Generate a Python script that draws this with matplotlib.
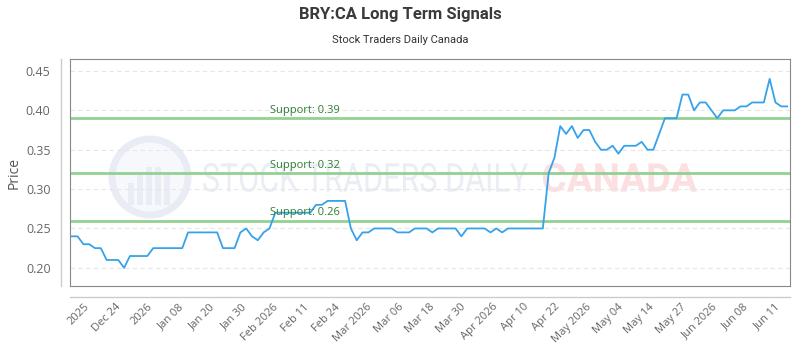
import numpy as np
import matplotlib.pyplot as plt
from matplotlib.lines import Line2D
from matplotlib.patches import Circle, PathPatch, Rectangle
from matplotlib.textpath import TextPath
from matplotlib.font_manager import FontProperties
from matplotlib.transforms import Affine2D, IdentityTransform

# price series (one value per trading day)
prices = [0.24, 0.24, 0.23, 0.23, 0.225, 0.225, 0.21, 0.21, 0.21, 0.20,
          0.215, 0.215, 0.215, 0.215, 0.225, 0.225, 0.225, 0.225, 0.225, 0.225,
          0.245, 0.245, 0.245, 0.245, 0.245, 0.245, 0.225, 0.225, 0.225, 0.245,
          0.25, 0.24, 0.235, 0.245, 0.25, 0.27, 0.27, 0.27, 0.27, 0.27,
          0.27, 0.27, 0.28, 0.28, 0.285, 0.285, 0.285, 0.285, 0.25, 0.235,
          0.245, 0.245, 0.25, 0.25, 0.25, 0.25, 0.245, 0.245, 0.245, 0.25,
          0.25, 0.25, 0.245, 0.25, 0.25, 0.25, 0.25, 0.24, 0.25, 0.25,
          0.25, 0.25, 0.245, 0.25, 0.245, 0.25, 0.25, 0.25, 0.25, 0.25,
          0.25, 0.25, 0.32, 0.34, 0.38, 0.37, 0.38, 0.365, 0.375, 0.375,
          0.36, 0.35, 0.35, 0.355, 0.345, 0.355, 0.355, 0.355, 0.36, 0.35,
          0.35, 0.37, 0.39, 0.39, 0.39, 0.42, 0.42, 0.40, 0.41, 0.41,
          0.40, 0.39, 0.40, 0.40, 0.40, 0.405, 0.405, 0.41, 0.41, 0.41,
          0.44, 0.41, 0.405, 0.405]

supports = [0.39, 0.32, 0.26]
support_labels = ["Support: 0.39", "Support: 0.32", "Support: 0.26"]

tick_labels = ["2025", "Dec 24", "2026", "Jan 08", "Jan 20", "Jan 30", "Feb 2026",
               "Feb 11", "Feb 24", "Mar 2026", "Mar 06", "Mar 18", "Mar 30",
               "Apr 2026", "Apr 10", "Apr 22", "May 2026", "May 04", "May 14",
               "May 27", "Jun 2026", "Jun 08", "Jun 11"]

W, H = 800, 350
fig = plt.figure(figsize=(8, 3.5), dpi=100)
ax = fig.add_axes([0.0875, 0.183, 0.9, 0.648])


def px(x, y):
    # pixel position from top-left -> display coords
    return x, H - y


def stretched_text(s, x0, x1, ytop, ybot, color, weight="normal"):
    tp = TextPath((0, 0), s, size=50, prop=FontProperties(family="Roboto", weight=weight))
    bb = tp.get_extents()
    sx = (x1 - x0) / bb.width
    sy = (ybot - ytop) / bb.height
    tr = Affine2D().translate(-bb.x0, -bb.y0).scale(sx, sy).translate(x0, H - ybot)
    fig.add_artist(PathPatch(tr.transform_path(tp), transform=IdentityTransform(),
                             facecolor=color, edgecolor="none", zorder=0))


# watermark: logo + text
fig.add_artist(Circle(px(150, 177), 38, transform=IdentityTransform(),
                      facecolor="#f7f8fc", edgecolor="#e9ecf4", lw=5, zorder=0))
for bx, bh in [(128, 22), (137, 30), (146, 38), (155, 38), (164, 30)]:
    fig.add_artist(Rectangle(px(bx, 205), 6, bh, transform=IdentityTransform(),
                             facecolor="#eaedf5", edgecolor="none", zorder=0))
stretched_text("STOCK TRADERS DAILY", 203, 528, 163, 192, "#eaedf4")
stretched_text("CANADA", 543, 697, 163, 192, "#fcdfe1", weight="bold")

x = np.arange(len(prices))
ax.plot(x, prices, color="#36a2eb", lw=1.3, zorder=3)

for s, lab in zip(supports, support_labels):
    ax.axhline(s, color="#93d193", lw=2, zorder=2)
    ax.text(34.1, s + 0.003, lab, color="#2e7d32", fontsize=8, family="Open Sans",
            va="bottom", ha="left", zorder=4)

ax.set_xlim(-0.3, len(prices) - 0.5)
ax.set_ylim(0.177, 0.465)
ax.set_yticks([0.20, 0.25, 0.30, 0.35, 0.40, 0.45])
ax.set_yticklabels(["0.20", "0.25", "0.30", "0.35", "0.40", "0.45"])
ax.set_xticks(np.linspace(2.8, 121.5, len(tick_labels)))
ax.set_xticklabels(tick_labels, rotation=45, ha="right", va="center",
                   rotation_mode="anchor")
ax.grid(axis="y", color="#e6e6e6", ls=(0, (4, 3)), lw=0.8)
ax.set_axisbelow(True)
ax.patch.set_alpha(0)
ax.tick_params(axis="both", length=0, colors="#666666", labelsize=9)
ax.tick_params(axis="x", pad=14, labelsize=8)
ax.tick_params(axis="y", pad=14)
for lbl in ax.get_xticklabels() + ax.get_yticklabels():
    lbl.set_family("Open Sans")
for sp in ax.spines.values():
    sp.set_color("#888888")
ax.set_ylabel("Price", fontsize=10, color="#555555", family="Open Sans")
ax.yaxis.set_label_coords((22 - 70) / 720, 0.5)

# offset axis lines
fig.add_artist(Line2D([61 / W, 61 / W], [1 - 59 / H, 1 - 286 / H],
                      color="#cccccc", lw=1))
fig.add_artist(Line2D([70 / W, 790 / W], [1 - 297 / H, 1 - 297 / H],
                      color="#cccccc", lw=1))

fig.text(0.5, 1 - 15 / H, "BRY:CA Long Term Signals", ha="center", va="center",
         fontsize=12, weight="bold", family="Roboto", color="#3a3a3a")
fig.text(0.5, 1 - 40 / H, "Stock Traders Daily Canada", ha="center", va="center",
         fontsize=8, family="Roboto", color="#333333")

fig.savefig("out.png", dpi=100)
